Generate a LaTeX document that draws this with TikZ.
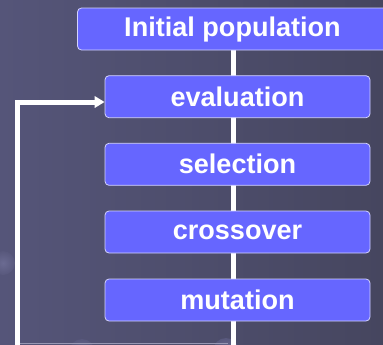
\documentclass[tikz,border=0pt]{standalone}
\usepackage{fontspec}
\setmainfont{Liberation Sans}
\usetikzlibrary{arrows.meta,calc}
\pgfdeclarelayer{bg}
\pgfdeclarelayer{lines}
\pgfsetlayers{bg,lines,main}
\definecolor{bgleft}{HTML}{555579}
\definecolor{bgright}{HTML}{46465F}
\definecolor{boxfill}{HTML}{6666FF}
\definecolor{boxline}{HTML}{D4D4FF}
\definecolor{bubblein}{HTML}{6B6B92}
\definecolor{bubbleout}{HTML}{58587C}
\tikzset{
  stepbox/.style={draw=boxline, line width=0.6pt, fill=boxfill, rounded corners=3pt,
    text=white, font=\bfseries\fontsize{20.3}{23}\selectfont, inner sep=0pt,
    minimum height=31.5pt},
  flow/.style={white, line width=3.75pt},
  feedback/.style={white, line width=3.75pt, -{Triangle[length=7.5pt,width=8.5pt]}},
  bubbleball/.style={inner color=bubblein, outer color=bubbleout},
}
\begin{document}
\begin{tikzpicture}[x=0.75pt,y=-0.75pt]
\useasboundingbox (0,0) rectangle (383,344);
\clip (0,0) rectangle (383,344);
\begin{pgfonlayer}{bg}
  \shade[left color=bgleft, right color=bgright] (0,0) rectangle (383,344);
  \shade[bubbleball] (3,263) circle (12);
  \shade[bubbleball] (82,352) circle (13);
  \shade[bubbleball] (226,351) circle (13);
  \draw[color=bubblein!70!white, line width=0.75pt] (20,343.5) -- (228,343.5);
\end{pgfonlayer}

\node[stepbox, minimum width=232.5pt] (init) at (232.5,29) {Initial population};
\node[stepbox, minimum width=198.75pt] (eval) at (237.5,96.7) {evaluation};
\node[stepbox, minimum width=198.75pt] (sel) at (237.5,164.3) {selection};
\node[stepbox, minimum width=198.75pt] (cross) at (237.5,232) {crossover};
\node[stepbox, minimum width=198.75pt] (mut) at (237.5,300) {mutation};

\coordinate (bottom) at (233,360);
\coordinate (fbbot) at (17,360);
\coordinate (fbtop) at (17,102);

\begin{pgfonlayer}{lines}
  \draw[flow] (init.south -| bottom) -- (bottom);
  \draw[feedback] (fbbot) -- (fbtop) -- (eval.west |- fbtop);
\end{pgfonlayer}
\end{tikzpicture}
\end{document}
